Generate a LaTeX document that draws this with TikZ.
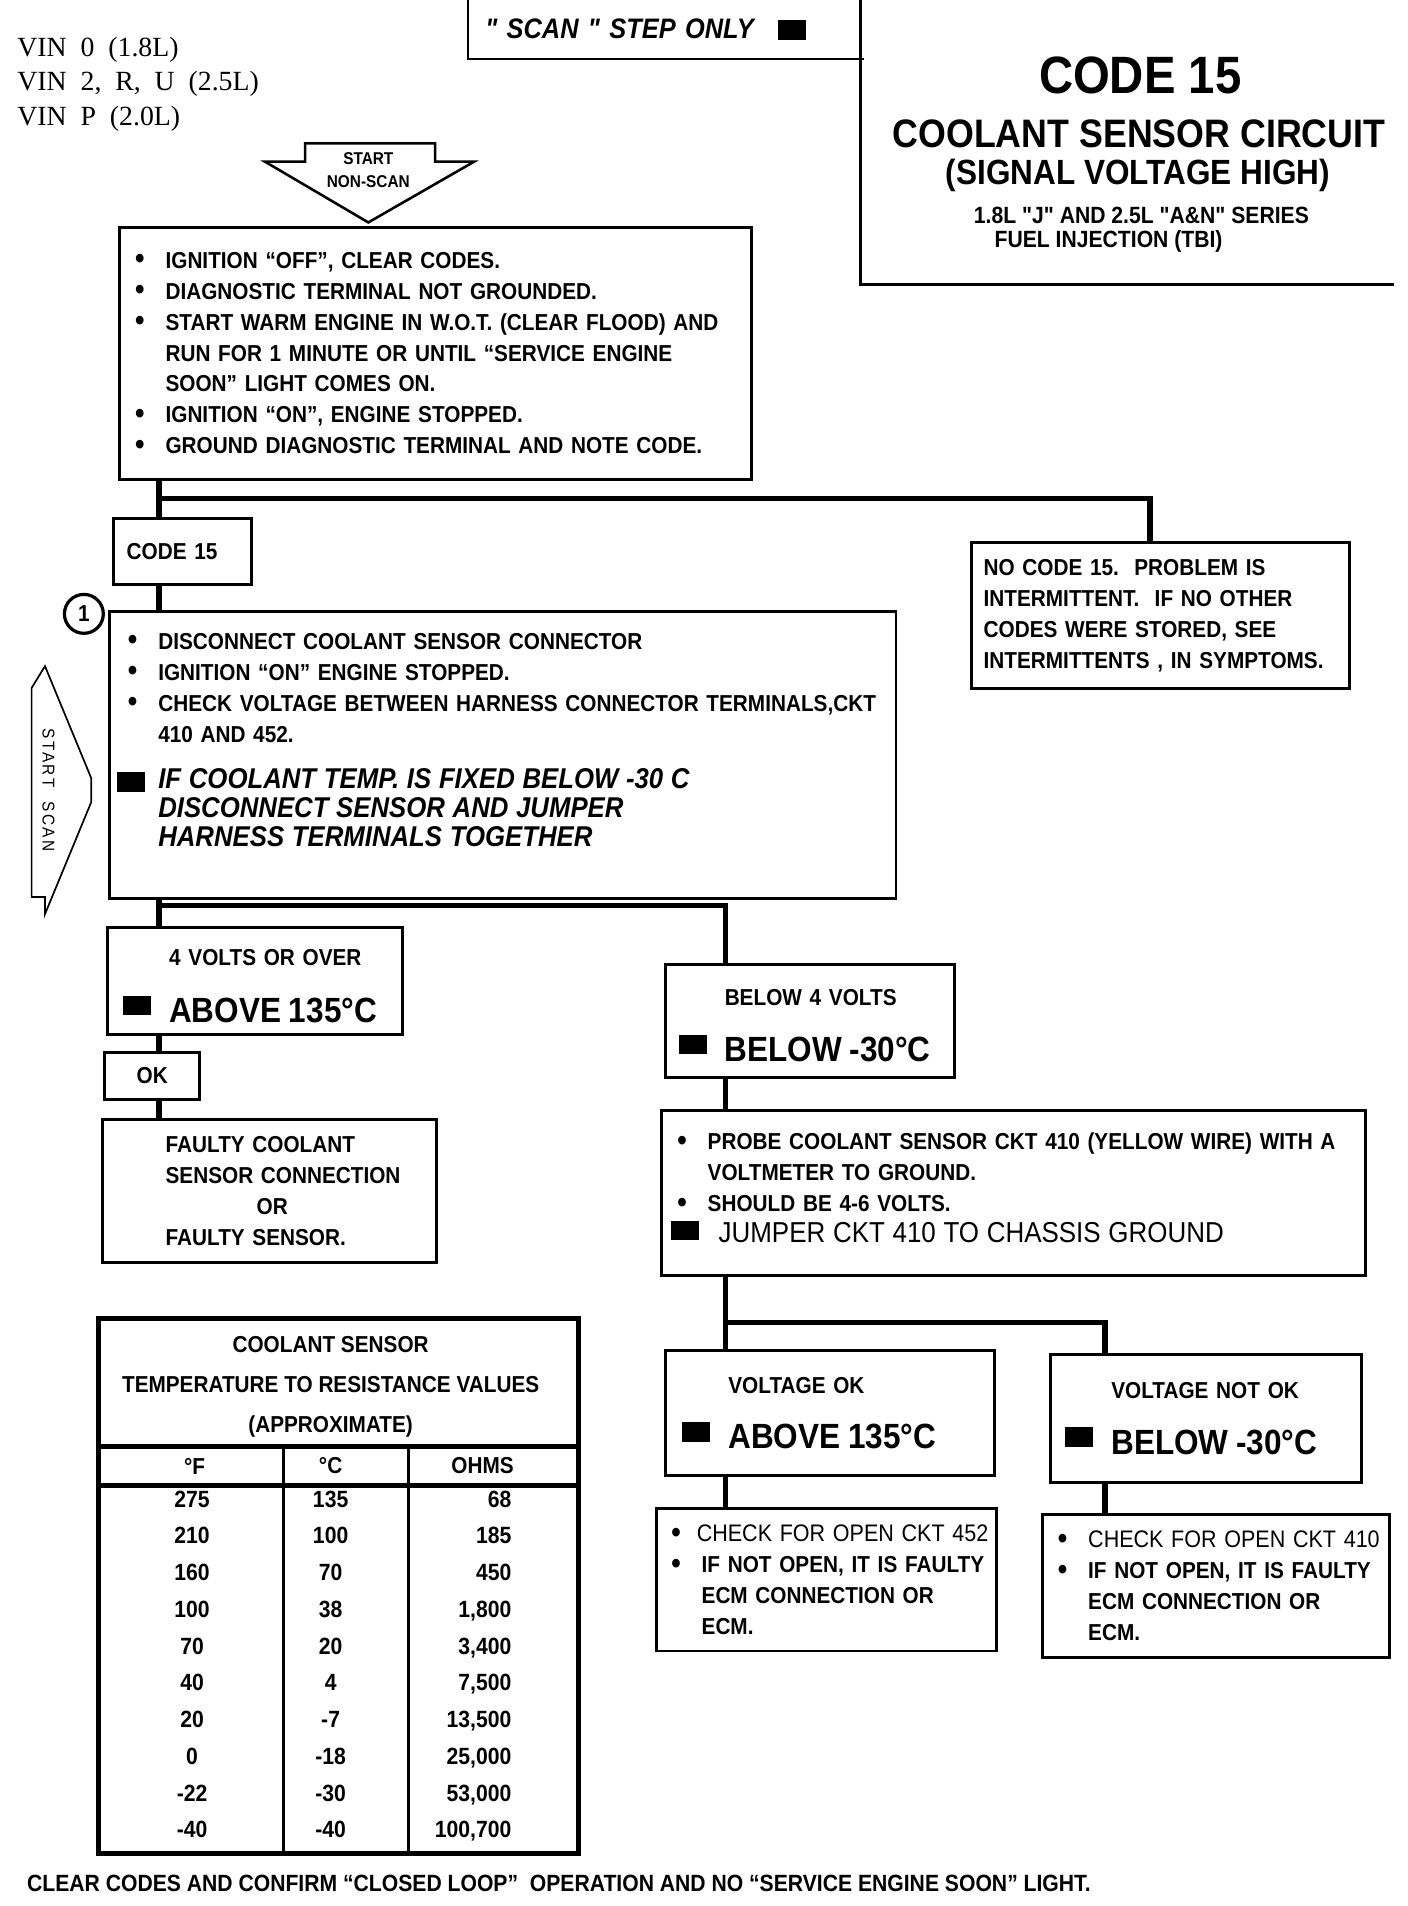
\documentclass[tikz,border=0pt]{standalone}
\usepackage{fontspec}
\newfontfamily\cnd[FakeStretch=0.9]{Liberation Sans}
\newfontfamily\vinfnt{Liberation Serif}
\newcommand\smf{\cnd\bfseries\fontsize{10.8}{14.5}\selectfont}
\newcommand\bgf{\cnd\bfseries\fontsize{16.4}{18}\selectfont}
\newcommand\itf{\cnd\bfseries\itshape\fontsize{13.4}{13.6}\selectfont}
\newcommand\jmpf{\cnd\mdseries\fontsize{13.5}{14.6}\selectfont}
\newcommand\chkf{\mdseries\fontsize{11.2}{14.5}\selectfont}
\newcommand\bul[1][0.5cm]{\makebox[#1][l]{\raisebox{-0.4pt}{\scalebox{1.3}{\textbullet}}}}
\newcommand\ind{\hspace*{0.5cm}}
\newcommand\blk[1][0pt]{\rule[#1]{0.46cm}{0.32cm}}
\newcommand\hng[1]{\makebox[0.76cm][l]{#1}}

\begin{document}
\begin{tikzpicture}[
  x=0.02cm, y=-0.02cm,
  font=\smf,
  box/.style={draw, line width=1.4pt, anchor=north west, inner sep=0pt, align=left},
  frame/.style={line width=1.2pt},
  thinframe/.style={line width=0.8pt},
  flow/.style={line width=2.6pt},
  rule/.style={line width=2.2pt},
  val/.style={anchor=north, inner sep=0pt, align=center, font=\cnd\bfseries\fontsize{11}{17.2}\selectfont}
]
\useasboundingbox (0,0) rectangle (1158,1568);

% header
\node[anchor=north west, inner sep=0pt, align=left, font=\vinfnt\fontsize{13}{16.2}\selectfont] (vin) at (14,30) {VIN~~0~~(1.8L)\\VIN~~2,~~R,~~U~~(2.5L)\\VIN~~P~~(2.0L)};
\node[box, draw=none, minimum width=6.46cm, minimum height=0.92cm, text width=5.94cm, font=\cnd\bfseries\itshape\fontsize{13.2}{14}\selectfont] (scan) at (385,0) {" SCAN " STEP ONLY\hspace{0.4cm}\blk[-0.02cm]};
\draw[frame] (scan.north west) |- (scan.south east);
\coordinate (ttlnw) at (708,0);
\coordinate (ttlse) at (1147,234);
\draw[frame] (ttlnw) |- (ttlse);
\node[anchor=base, font=\cnd\bfseries\fontsize{24.6}{26}\selectfont] (ttl) at (938,77) {CODE 15};
\node[anchor=base, font=\cnd\bfseries\fontsize{18.6}{20}\selectfont] (ttlname) at (937,121) {COOLANT SENSOR CIRCUIT};
\node[anchor=base, font=\cnd\bfseries\fontsize{16.4}{18}\selectfont] (ttlsig) at (936,152) {(SIGNAL VOLTAGE HIGH)};
\node[anchor=base, font=\cnd\bfseries\fontsize{11}{12}\selectfont] (ttlser) at (939,184) {1.8L "J" AND 2.5L "A\&N" SERIES};
\node[anchor=base, font=\cnd\bfseries\fontsize{11}{12}\selectfont] (ttlfuel) at (912,204) {FUEL INJECTION (TBI)};

% start arrows
\draw[frame] (251,118) -- (358,118) -- (358,133) -- (390,133) -- (303,183) -- (218,133) -- (251,133) -- cycle;
\node[align=center, inner sep=0pt, font=\cnd\bfseries\fontsize{8}{10.8}\selectfont] (nonscan) at (303,140) {START\\NON-SCAN};
\draw[thinframe] (37,548) -- (75,640) -- (75,660) -- (37,752) -- (37,738) -- (26,738) -- (26,566) -- cycle;
\node[rotate=-90, inner sep=0pt, font=\cnd\fontsize{8}{8}\selectfont\addfontfeature{LetterSpace=15}] (scantag) at (40,650) {START~~SCAN};

% left branch
\node[box, minimum width=10.4cm, minimum height=4.14cm, text width=9.88cm] (chk1) at (97,186) {\bul IGNITION “OFF”, CLEAR CODES.\\
\bul DIAGNOSTIC TERMINAL NOT GROUNDED.\\
\bul START WARM ENGINE IN W.O.T. (CLEAR FLOOD) AND\\
\ind RUN FOR 1 MINUTE OR UNTIL “SERVICE ENGINE\\
\ind SOON” LIGHT COMES ON.\\
\bul IGNITION “ON”, ENGINE STOPPED.\\
\bul GROUND DIAGNOSTIC TERMINAL AND NOTE CODE.};
\node[box, minimum width=2.28cm, minimum height=1.1cm, text width=1.84cm] (code) at (92,425) {CODE 15};
\node[box, minimum width=6.22cm, minimum height=2.4cm, text width=5.82cm] (nocode) at (798,445) {NO CODE 15.~~PROBLEM IS\\INTERMITTENT.~~IF NO OTHER\\CODES WERE STORED, SEE\\INTERMITTENTS~, IN SYMPTOMS.};
\node[circle, draw, line width=1.5pt, minimum size=0.64cm, inner sep=0pt] (stepone) at (69,505) {1};
\node[box, minimum width=12.94cm, minimum height=4.72cm, text width=12.34cm] (chk2) at (89,502) {\bul DISCONNECT COOLANT SENSOR CONNECTOR\\
\bul IGNITION “ON” ENGINE STOPPED.\\
\bul \mbox{CHECK VOLTAGE BETWEEN HARNESS CONNECTOR TERMINALS,CKT}\\
\ind 410 AND 452.\\[8pt]
\makebox[0.5cm][l]{\hspace*{-0.18cm}\blk[-0.06cm]}\itf IF COOLANT TEMP. IS FIXED BELOW -30 C\\
\ind DISCONNECT SENSOR AND JUMPER\\
\ind HARNESS TERMINALS TOGETHER\\
\mbox{}};
\node[box, minimum width=4.86cm, minimum height=1.76cm, text width=4.34cm] (over4) at (87,762) {\hng{}\rule{0pt}{12.2pt}4 VOLTS OR OVER\\[12pt]\hng{\blk[0.12cm]}\bgf ABOVE 135°C};
\node[box, minimum width=1.56cm, minimum height=0.76cm, align=center] (okb) at (85,865) {OK};
\node[box, minimum width=5.5cm, minimum height=2.34cm, text width=3.42cm] (faulty) at (83,920) {FAULTY COOLANT\\\mbox{SENSOR CONNECTION}\\\hspace*{1.5cm}OR\\FAULTY SENSOR.};

% right branch
\node[box, minimum width=4.76cm, minimum height=1.86cm, text width=4.32cm] (under4) at (546,792) {\hng{}\rule{0pt}{12.2pt}BELOW 4 VOLTS\\[11.5pt]\hng{\blk[0.12cm]}\bgf BELOW -30°C};
\node[box, minimum width=11.58cm, minimum height=2.72cm, text width=11.06cm] (probe) at (543,912) {\bul PROBE COOLANT SENSOR CKT 410 (YELLOW WIRE) WITH A\\
\ind VOLTMETER TO GROUND.\\
\bul SHOULD BE 4-6 VOLTS.\\
\hspace*{-0.1cm}\makebox[0.78cm][l]{\blk[0.04cm]}\jmpf JUMPER CKT 410 TO CHASSIS GROUND\\[-10pt]
\mbox{}};
\node[box, minimum width=5.42cm, minimum height=2.06cm, text width=4.86cm] (vok) at (546,1110) {\hng{}VOLTAGE OK\\[11.5pt]\hng{\blk[0.12cm]}\bgf ABOVE 135°C};
\node[box, minimum width=5.12cm, minimum height=2.1cm, text width=4.64cm] (vnok) at (863,1113) {\hng{}VOLTAGE NOT OK\\[11.8pt]\hng{\blk[0.12cm]}\bgf BELOW -30°C};
\node[box, minimum width=5.6cm, minimum height=2.34cm, text width=5.12cm] (open452) at (539,1240) {\bul[0.42cm]\mbox{\chkf CHECK FOR OPEN CKT 452}\\
\bul\mbox{IF NOT OPEN, IT IS FAULTY}\\
\ind ECM CONNECTION OR\\
\ind ECM.};
\node[box, minimum width=5.72cm, minimum height=2.34cm, text width=5.2cm] (open410) at (856,1245) {\bul\mbox{\chkf CHECK FOR OPEN CKT 410}\\
\bul\mbox{IF NOT OPEN, IT IS FAULTY}\\
\ind ECM CONNECTION OR\\
\ind ECM.};

% resistance table
\node[box, line width=2.2pt, minimum width=7.9cm, minimum height=8.8cm] (tbl) at (79,1083) {};
\node[anchor=north, align=center, inner sep=0pt, font=\cnd\bfseries\fontsize{10.8}{18.7}\selectfont] (tblhead) at (272,1099) {COOLANT SENSOR\\TEMPERATURE TO RESISTANCE VALUES\\(APPROXIMATE)};
\coordinate (hd1) at (0,1190);
\coordinate (hd2) at (0,1222);
\coordinate (col1) at (233,0);
\coordinate (col2) at (336,0);
\draw[rule] (tbl.west |- hd1) -- (tbl.east |- hd1);
\draw[rule] (tbl.west |- hd2) -- (tbl.east |- hd2);
\draw[frame] (col1 |- hd1) -- (col1 |- tbl.south);
\draw[frame] (col2 |- hd1) -- (col2 |- tbl.south);
\node (hdF) at (160,1206) {°F};
\node (hdC) at (272,1206) {°C};
\node (hdO) at (397,1206) {OHMS};
\node[val] (colF) at (158,1226) {275\\210\\160\\100\\70\\40\\20\\0\\-22\\-40};
\node[val] (colC) at (272,1226) {135\\100\\70\\38\\20\\4\\-7\\-18\\-30\\-40};
\node[val, anchor=north east, align=right] (colO) at (421,1226) {68\\185\\450\\1,800\\3,400\\7,500\\13,500\\25,000\\53,000\\100,700};

\node[anchor=base west, inner sep=0pt, font=\cnd\bfseries\fontsize{11}{12}\selectfont] (footer) at (22,1556) {CLEAR CODES AND CONFIRM “CLOSED LOOP”~ OPERATION AND NO “SERVICE ENGINE SOON” LIGHT.};

% connectors
\coordinate (ltr) at (131,0);
\coordinate (rtr) at (597,0);
\coordinate (nocx) at (946,0);
\coordinate (vnx) at (909,0);
\coordinate (fork1) at (131,410);
\coordinate (fork2) at (131,745);
\coordinate (fork3) at (597,1088);
\draw[flow] (chk1.south -| ltr) -- (code.north -| ltr);
\draw[flow] (fork1) -| (nocode.north -| nocx);
\draw[flow] (code.south -| ltr) -- (chk2.north -| ltr);
\draw[flow] (chk2.south -| ltr) -- (over4.north -| ltr);
\draw[flow] (fork2) -| (under4.north -| rtr);
\draw[flow] (over4.south -| ltr) -- (okb.north -| ltr);
\draw[flow] (okb.south -| ltr) -- (faulty.north -| ltr);
\draw[flow] (under4.south -| rtr) -- (probe.north -| rtr);
\draw[flow] (probe.south -| rtr) -- (vok.north -| rtr);
\draw[flow] (fork3) -| (vnok.north -| vnx);
\draw[flow] (vok.south -| rtr) -- (open452.north -| rtr);
\draw[flow] (vnok.south -| vnx) -- (open410.north -| vnx);
\end{tikzpicture}
\end{document}
